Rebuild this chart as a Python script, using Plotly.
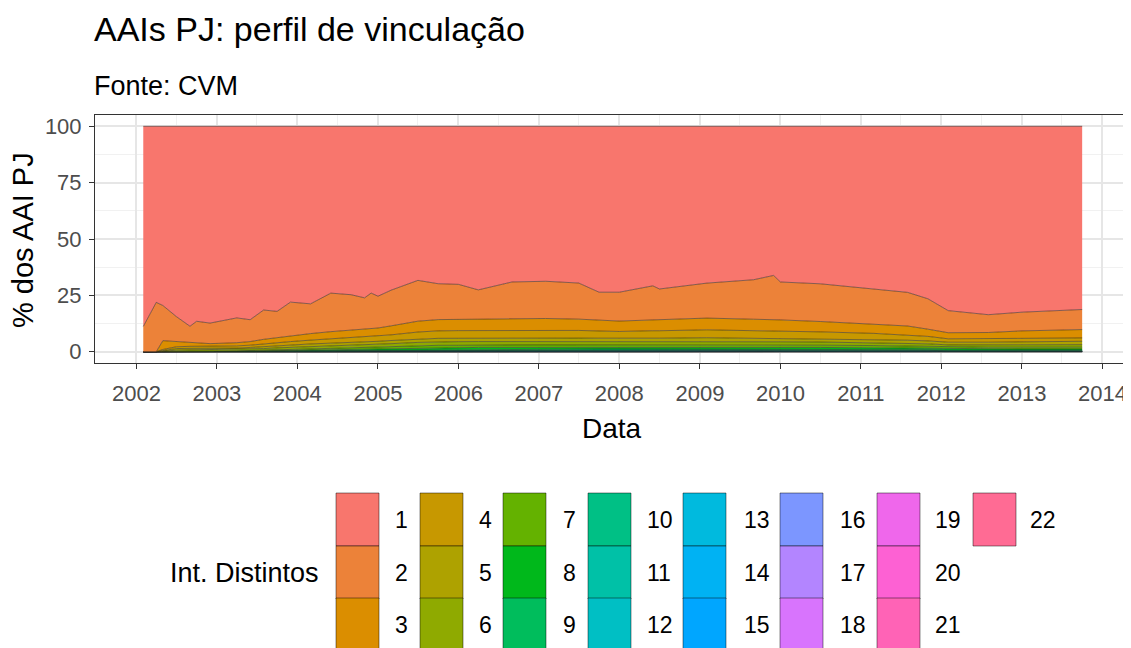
import math
import plotly.graph_objects as go

# ---------------- data (percent of AAI PJ per number of distinct intermediaries) -------------
dates = [
    "2002-02-01", "2002-04-01", "2002-05-01", "2002-07-01", "2002-09-01", "2002-10-01",
    "2002-12-01", "2003-04-01", "2003-06-01", "2003-08-01", "2003-10-01", "2003-12-01",
    "2004-03-01", "2004-06-01", "2004-09-01", "2004-11-01", "2004-12-01", "2005-01-01",
    "2005-03-01", "2005-07-01", "2005-10-01", "2006-01-01", "2006-04-01", "2006-09-01",
    "2007-02-01", "2007-07-01", "2007-10-01", "2008-01-01", "2008-06-01", "2008-07-01",
    "2009-02-01", "2009-09-01", "2009-12-01", "2010-01-01", "2010-07-01", "2011-03-01",
    "2011-08-01", "2011-11-01", "2012-02-01", "2012-08-01", "2013-01-01", "2013-10-01",
]

levels = ["1", "2", "3", "4", "5", "6", "7", "8", "9", "10", "11",
          "12", "13", "14", "15", "16", "17", "18", "19", "20", "21", "22"]

s1 = [88.8, 78.1, 79.5, 84.4, 88.7, 86.5,
      87.3, 85.0, 85.8, 81.5, 82.1, 78.0,
      78.8, 74.0, 74.7, 76.1, 74.0, 75.4,
      72.7, 68.3, 69.8, 70.0, 72.5, 69.0,
      68.7, 69.5, 73.6, 73.6, 70.7, 72.1,
      69.5, 68.0, 66.1, 69.0, 69.8, 72.0,
      73.6, 76.5, 81.8, 83.6, 82.4, 81.3]
s2 = [11.2, 21.9, 15.6, 11.1, 7.3, 9.7,
      9.1, 11.0, 9.7, 13.0, 11.6, 14.9,
      13.2, 17.1, 15.7, 13.9, 15.7, 14.1,
      15.8, 18.1, 15.9, 15.5, 13.0, 16.5,
      16.5, 16.0, 12.4, 12.8, 15.1, 13.6,
      15.5, 17.5, 19.6, 16.8, 16.7, 15.7,
      14.9, 13.5, 9.8, 7.9, 8.3, 8.9]
s3 = [0, 0, 3.9, 2.3, 1.6, 1.4,
      1.3, 1.4, 1.6, 2.0, 2.3, 2.6,
      2.9, 3.2, 3.4, 3.5, 3.6, 3.6,
      4.0, 4.8, 5.0, 5.0, 5.0, 4.9,
      5.1, 5.0, 4.8, 4.6, 4.8, 4.9,
      5.2, 5.0, 4.9, 4.9, 4.6, 4.1,
      3.9, 3.2, 2.7, 2.8, 3.3, 3.7]
s4 = [0, 0, 0.5, 0.8, 0.9, 0.9,
      0.9, 1.0, 1.0, 1.2, 1.3, 1.5,
      1.7, 1.9, 2.1, 2.2, 2.2, 2.3,
      2.5, 3.1, 3.3, 3.4, 3.4, 3.4,
      3.5, 3.4, 3.2, 3.1, 3.3, 3.3,
      3.5, 3.4, 3.3, 3.3, 3.1, 2.7,
      2.4, 2.0, 1.5, 1.5, 1.5, 1.5]
s5 = [0, 0, 0.3, 0.7, 0.7, 0.7,
      0.6, 0.7, 0.8, 0.9, 1.0, 1.1,
      1.2, 1.2, 1.2, 1.2, 1.3, 1.3,
      1.4, 1.5, 1.5, 1.5, 1.5, 1.6,
      1.5, 1.5, 1.5, 1.5, 1.5, 1.5,
      1.6, 1.5, 1.5, 1.5, 1.4, 1.4,
      1.3, 1.3, 1.2, 1.2, 1.4, 1.5]
s6 = [0, 0, 0.2, 0.5, 0.5, 0.5,
      0.5, 0.5, 0.6, 0.7, 0.8, 0.9,
      1.0, 1.1, 1.1, 1.2, 1.2, 1.2,
      1.3, 1.5, 1.6, 1.6, 1.5, 1.5,
      1.6, 1.5, 1.5, 1.4, 1.5, 1.5,
      1.5, 1.5, 1.5, 1.5, 1.4, 1.3,
      1.3, 1.1, 1.0, 1.0, 1.0, 1.1]
s7 = [0, 0, 0, 0.1, 0.1, 0.1,
      0.1, 0.2, 0.2, 0.3, 0.4, 0.4,
      0.5, 0.6, 0.7, 0.8, 0.8, 0.8,
      0.9, 1.0, 1.1, 1.1, 1.1, 1.1,
      1.1, 1.1, 1.1, 1.1, 1.1, 1.1,
      1.1, 1.1, 1.1, 1.0, 1.0, 1.0,
      0.9, 0.9, 0.8, 0.8, 0.8, 0.8]
s8 = [0, 0, 0, 0.1, 0.1, 0.1,
      0.1, 0.1, 0.1, 0.2, 0.2, 0.2,
      0.3, 0.4, 0.4, 0.4, 0.5, 0.5,
      0.5, 0.6, 0.7, 0.7, 0.7, 0.7,
      0.7, 0.7, 0.7, 0.7, 0.7, 0.7,
      0.8, 0.7, 0.7, 0.7, 0.7, 0.7,
      0.6, 0.6, 0.5, 0.5, 0.5, 0.5]
s9 = [0, 0, 0, 0, 0.1, 0.1,
      0.1, 0.1, 0.1, 0.1, 0.1, 0.2,
      0.2, 0.2, 0.3, 0.3, 0.3, 0.3,
      0.3, 0.4, 0.4, 0.4, 0.4, 0.4,
      0.4, 0.4, 0.4, 0.4, 0.4, 0.4,
      0.4, 0.4, 0.4, 0.4, 0.4, 0.4,
      0.4, 0.3, 0.3, 0.3, 0.3, 0.3]
s10 = [0, 0, 0, 0, 0, 0,
       0, 0, 0.1, 0.1, 0.1, 0.1,
       0.1, 0.1, 0.1, 0.1, 0.1, 0.2,
       0.2, 0.2, 0.2, 0.2, 0.2, 0.2,
       0.2, 0.2, 0.2, 0.2, 0.2, 0.2,
       0.2, 0.2, 0.2, 0.2, 0.2, 0.2,
       0.2, 0.2, 0.1, 0.1, 0.1, 0.1]
s11 = [0, 0, 0, 0, 0, 0,
       0, 0, 0, 0, 0.1, 0.1,
       0.1, 0.1, 0.1, 0.1, 0.1, 0.1,
       0.1, 0.1, 0.1, 0.1, 0.2, 0.2,
       0.2, 0.2, 0.2, 0.2, 0.2, 0.2,
       0.2, 0.2, 0.2, 0.2, 0.2, 0.1,
       0.1, 0.1, 0.1, 0.1, 0.1, 0.1]
s12 = [0, 0, 0, 0, 0, 0,
       0, 0, 0, 0, 0, 0,
       0.05, 0.05, 0.1, 0.1, 0.1, 0.1,
       0.1, 0.1, 0.1, 0.1, 0.1, 0.1,
       0.1, 0.1, 0.1, 0.1, 0.1, 0.1,
       0.1, 0.1, 0.1, 0.1, 0.1, 0.1,
       0.1, 0.1, 0.05, 0.05, 0.05, 0.05]
s13 = [0, 0, 0, 0, 0, 0,
       0, 0, 0, 0, 0, 0,
       0, 0.05, 0.05, 0.05, 0.05, 0.05,
       0.05, 0.1, 0.1, 0.1, 0.15, 0.15,
       0.15, 0.15, 0.1, 0.1, 0.1, 0.1,
       0.1, 0.1, 0.1, 0.1, 0.1, 0.05,
       0.05, 0.05, 0.05, 0.05, 0.05, 0.05]
s14 = [0, 0, 0, 0, 0, 0,
       0, 0, 0, 0, 0, 0,
       0, 0, 0.03, 0.03, 0.03, 0.03,
       0.05, 0.05, 0.05, 0.05, 0.05, 0.05,
       0.05, 0.05, 0.05, 0.05, 0.05, 0.05,
       0.05, 0.05, 0.05, 0.05, 0.05, 0.05,
       0.03, 0.03, 0.03, 0.03, 0.03, 0.03]
s15 = [0, 0, 0, 0, 0, 0,
       0, 0, 0, 0, 0, 0,
       0, 0, 0, 0.02, 0.02, 0.02,
       0.03, 0.03, 0.03, 0.03, 0.03, 0.03,
       0.04, 0.04, 0.04, 0.04, 0.04, 0.04,
       0.04, 0.04, 0.04, 0.04, 0.03, 0.03,
       0.03, 0.03, 0.02, 0.02, 0.02, 0.02]
s16 = [0, 0, 0, 0, 0, 0,
       0, 0, 0, 0, 0, 0,
       0, 0, 0, 0, 0.02, 0.02,
       0.02, 0.02, 0.02, 0.03, 0.03, 0.03,
       0.03, 0.03, 0.03, 0.03, 0.03, 0.03,
       0.03, 0.03, 0.03, 0.03, 0.03, 0.03,
       0.02, 0.02, 0.02, 0.02, 0.02, 0.02]
s17 = [0, 0, 0, 0, 0, 0,
       0, 0, 0, 0, 0, 0,
       0, 0, 0, 0, 0, 0,
       0.02, 0.02, 0.02, 0.02, 0.02, 0.02,
       0.02, 0.02, 0.02, 0.02, 0.02, 0.02,
       0.02, 0.02, 0.02, 0.02, 0.02, 0.02,
       0.02, 0.02, 0.01, 0.01, 0.01, 0.01]
s18 = [0, 0, 0, 0, 0, 0,
       0, 0, 0, 0, 0, 0,
       0, 0, 0, 0, 0, 0,
       0, 0.01, 0.01, 0.01, 0.02, 0.02,
       0.02, 0.02, 0.02, 0.02, 0.02, 0.02,
       0.02, 0.02, 0.02, 0.02, 0.02, 0.02,
       0.01, 0.01, 0.01, 0.01, 0.01, 0.01]
s19 = [0, 0, 0, 0, 0, 0,
       0, 0, 0, 0, 0, 0,
       0, 0, 0, 0, 0, 0,
       0, 0, 0.01, 0.01, 0.01, 0.01,
       0.01, 0.01, 0.01, 0.01, 0.01, 0.01,
       0.01, 0.01, 0.01, 0.01, 0.01, 0.01,
       0.01, 0.01, 0.01, 0.01, 0.01, 0.01]
s20 = [0, 0, 0, 0, 0, 0,
       0, 0, 0, 0, 0, 0,
       0, 0, 0, 0, 0, 0,
       0, 0, 0, 0, 0, 0,
       0.01, 0.01, 0.01, 0.01, 0.01, 0.01,
       0.01, 0.01, 0.01, 0.01, 0.01, 0.01,
       0.01, 0.01, 0.01, 0.01, 0.01, 0.01]
s21 = [0, 0, 0, 0, 0, 0,
       0, 0, 0, 0, 0, 0,
       0, 0, 0, 0, 0, 0,
       0, 0, 0, 0, 0, 0,
       0, 0.01, 0.01, 0.01, 0.01, 0.01,
       0.01, 0.01, 0.01, 0.01, 0.01, 0.01,
       0.01, 0.01, 0.01, 0.01, 0.01, 0.01]
s22 = [0, 0, 0, 0, 0, 0,
       0, 0, 0, 0, 0, 0,
       0, 0, 0, 0, 0, 0,
       0, 0, 0, 0, 0, 0,
       0, 0, 0.01, 0.01, 0.01, 0.01,
       0.01, 0.01, 0.01, 0.01, 0.01, 0.01,
       0.01, 0.01, 0.01, 0.01, 0.01, 0.01]

series = [s1, s2, s3, s4, s5, s6, s7, s8, s9, s10, s11,
          s12, s13, s14, s15, s16, s17, s18, s19, s20, s21, s22]

y_ticks = [0, 25, 50, 75, 100]


# ---------------- ggplot2 default hue palette (HCL, c=100, l=65) ----------------
def hcl_hex(h, c=100.0, l=65.0):
    hr = math.radians(h)
    U, V = c * math.cos(hr), c * math.sin(hr)
    Xn, Yn, Zn = 95.047, 100.0, 108.883
    Y = Yn * ((l + 16) / 116) ** 3 if l > 8 else Yn * l / 903.3
    den = Xn + 15 * Yn + 3 * Zn
    un, vn = 4 * Xn / den, 9 * Yn / den
    u = U / (13 * l) + un
    v = V / (13 * l) + vn
    X = 9.0 * Y * u / (4 * v)
    Z = -X / 3 - 5 * Y + 3 * Y / v
    X, Y, Z = X / 100, Y / 100, Z / 100
    r = 3.240479 * X - 1.537150 * Y - 0.498535 * Z
    g = -0.969256 * X + 1.875992 * Y + 0.041556 * Z
    b = 0.055648 * X - 0.204043 * Y + 1.057311 * Z

    def gam(t):
        t = 12.92 * t if t <= 0.0031308 else 1.055 * t ** (1 / 2.4) - 0.055
        return int(round(min(1, max(0, t)) * 255))

    return "#%02X%02X%02X" % (gam(r), gam(g), gam(b))


n = len(levels)
colors = [hcl_hex(15 + i * 360.0 / n) for i in range(n)]

# ---------------- geometry (page pixels; the page body has an 8px margin) ----------------
PAGE_W, PAGE_H, OFF = 1131, 648, 8
W, H = PAGE_W - OFF, PAGE_H - OFF
PL, PR, PT, PB = 95, 1128, 115, 363          # panel edges in page pixels
ML, MT = PL - OFF, PT - OFF
MR, MB = PAGE_W - PR, PAGE_H - PB
PW, PH = PR - PL, PB - PT


def xp(px):
    return (px - PL) / PW


def yp(py):
    return (PB - py) / PH


fig = go.Figure()
# ggplot stacks first level on top -> add from last to first
for i in range(n - 1, -1, -1):
    fig.add_trace(go.Scatter(
        x=dates, y=series[i], name=levels[i],
        mode="lines", stackgroup="one", groupnorm="percent",
        line=dict(color="rgba(30,30,30,0.75)", width=0.7),
        fillcolor=colors[i], showlegend=False,
        hovertemplate="%{x|%Y-%m}: %{y:.1f}<extra>" + levels[i] + "</extra>",
    ))

FONT = "Liberation Sans, Arial, sans-serif"
axis_common = dict(
    showline=True, mirror=True, linecolor="#333333", linewidth=1,
    ticks="outside", ticklen=5, tickcolor="#333333", tickwidth=1,
    showgrid=True, gridcolor="#E6E6E6", gridwidth=1.8,
    tickfont=dict(family=FONT, size=22, color="#4D4D4D"),
    zeroline=False,
)

fig.update_layout(
    width=W, height=H,
    margin=dict(l=ML, r=MR, t=MT, b=MB, autoexpand=False),
    paper_bgcolor="white", plot_bgcolor="white",
    font=dict(family=FONT, color="black"),
    showlegend=False,
    xaxis=dict(
        type="date", range=["2001-06-27", "2014-04-27"],
        tickformat="%Y", dtick="M12", tick0="2002-01-01",
        ticklabelstandoff=6,
        minor=dict(dtick="M6", tick0="2002-01-01", showgrid=True,
                   gridcolor="#F1F1F1", gridwidth=1.2),
        **axis_common,
    ),
    yaxis=dict(
        range=[-5, 105], tickvals=y_ticks, ticktext=[str(v) for v in y_ticks],
        ticklabelstandoff=3,
        minor=dict(tickvals=[12.5, 37.5, 62.5, 87.5], showgrid=True,
                   gridcolor="#F1F1F1", gridwidth=1.2),
        **axis_common,
    ),
)

ann = []
# title and subtitle
ann.append(dict(text="AAIs PJ: perfil de vinculação", x=xp(92), y=yp(29),
                xanchor="left", yanchor="middle", showarrow=False,
                font=dict(family=FONT, size=34, color="black")))
ann.append(dict(text="Fonte: CVM", x=xp(92), y=yp(86),
                xanchor="left", yanchor="middle", showarrow=False,
                font=dict(family=FONT, size=27, color="black")))
# axis titles
ann.append(dict(text="Data", x=xp(612), y=yp(428), xanchor="center", yanchor="middle",
                showarrow=False, font=dict(family=FONT, size=28, color="black")))
ann.append(dict(text="% dos AAI PJ", x=xp(23), y=yp(240), xanchor="center", yanchor="middle",
                textangle=-90, showarrow=False, font=dict(family=FONT, size=29, color="black")))

# legend (3 rows, column-major, like ggplot)
key_x = [336, 420, 503, 588, 683, 780, 877, 973]
lab_x = [393, 477, 561, 645, 742, 838, 933, 1028]
row_top = [493, 546, 598]
KW, KH = 43, 53
shapes = []
for k in range(n):
    c, r = k // 3, k % 3
    x0, y0 = key_x[c], row_top[r]
    shapes.append(dict(type="rect", xref="paper", yref="paper",
                       x0=xp(x0), x1=xp(x0 + KW), y0=yp(y0), y1=yp(y0 + KH),
                       fillcolor=colors[k], line=dict(color="rgba(0,0,0,0.45)", width=1),
                       layer="above"))
    ann.append(dict(text=levels[k], x=xp(lab_x[c]), y=yp(y0 + KH / 2),
                    xanchor="left", yanchor="middle", showarrow=False,
                    font=dict(family=FONT, size=23, color="black")))
ann.append(dict(text="Int. Distintos", x=xp(321), y=yp(573), xanchor="right", yanchor="middle",
                showarrow=False, font=dict(family=FONT, size=27, color="black")))

for a in ann:
    a.setdefault("xref", "paper")
    a.setdefault("yref", "paper")
fig.update_layout(annotations=ann, shapes=shapes)

fig.write_html("out.html")
